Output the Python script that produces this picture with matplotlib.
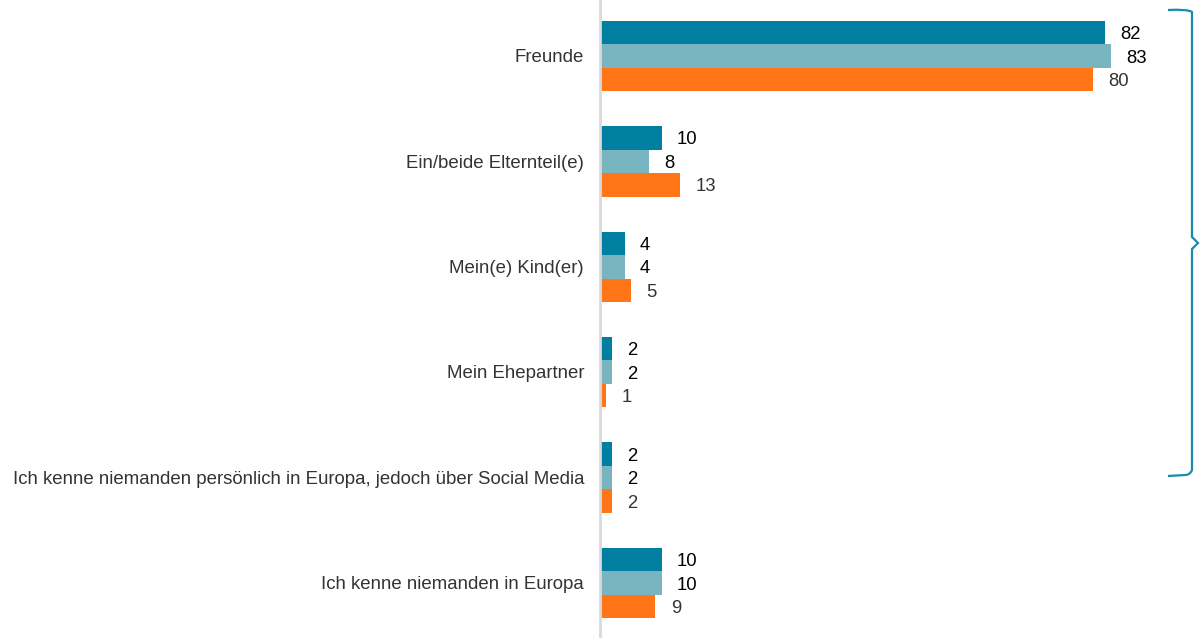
import matplotlib.pyplot as plt
import numpy as np
from matplotlib.path import Path
from matplotlib.patches import PathPatch

plt.rcParams['font.family'] = ['Liberation Sans', 'DejaVu Sans']

categories = ['Freunde', 'Ein/beide Elternteil(e)', 'Mein(e) Kind(er)', 'Mein Ehepartner',
              'Ich kenne niemanden persönlich in Europa, jedoch über Social Media',
              'Ich kenne niemanden in Europa']
series_a = [82, 10, 4, 2, 2, 10]
series_b = [83, 8, 4, 2, 2, 10]
series_c = [80, 13, 5, 1, 2, 9]

colors = ['#007FA0', '#79B4C1', '#FF7518']
label_colors = ['#000000', '#000000', '#333333']

W, H = 1201, 638
fig = plt.figure(figsize=(W / 100, H / 100), dpi=100)
ax = fig.add_axes([600 / W, 0, 601 / W, 1])

px_per_unit = 6.16
ax.set_xlim(0, 601 / px_per_unit)
step = 105.4
ax.set_ylim((H - 56) / step, -56 / step)

y = np.arange(len(categories))
h = 23.5 / step
for k, (vals, c, lc) in enumerate(zip([series_a, series_b, series_c], colors, label_colors)):
    pos = y + (k - 1) * h
    ax.barh(pos, vals, height=h, color=c, edgecolor='none')
    for p, v in zip(pos, vals):
        ax.annotate(str(v), (v, p), xytext=(11, -1.5), textcoords='offset points',
                    ha='left', va='center', fontsize=13.3, color=lc)

for yi, cat in zip(y, categories):
    ax.annotate(cat, (0, yi), xytext=(-11.5, -1.2), textcoords='offset points',
                ha='right', va='center', fontsize=13.4, color='#333333', annotation_clip=False)

for s in ['top', 'right', 'bottom']:
    ax.spines[s].set_visible(False)
ax.spines['left'].set_color('#D9D9D9')
ax.spines['left'].set_linewidth(2)
ax.set_xticks([])
ax.set_yticks([])

# bracket on the right
def fp(x, yy):
    return (x / W, 1 - yy / H)

verts = [fp(1168, 10), fp(1188, 9), fp(1192, 12), fp(1192, 14),
         fp(1192, 237), fp(1198, 243), fp(1192, 249),
         fp(1192, 470), fp(1190, 475), fp(1185, 475), fp(1168, 476)]
codes = [Path.MOVETO, Path.CURVE3, Path.CURVE3, Path.LINETO,
         Path.LINETO, Path.LINETO, Path.LINETO,
         Path.LINETO, Path.CURVE3, Path.CURVE3, Path.LINETO]
fig.patches.append(PathPatch(Path(verts, codes), transform=fig.transFigure,
                             fill=False, edgecolor='#1A8CAB', linewidth=1.6))

fig.savefig('out.png', dpi=100)
